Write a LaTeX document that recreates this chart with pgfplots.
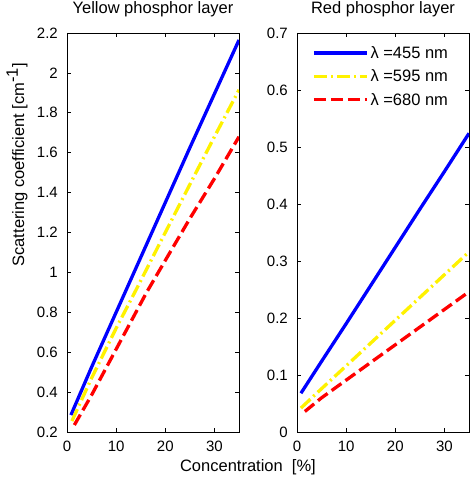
\documentclass[border=0pt]{standalone}
\usepackage{pgfplots}
\pgfplotsset{compat=1.18}
\usepackage{fontspec}
\setmainfont{Liberation Sans}

\newcommand{\tickfont}{\fontsize{15}{18}\selectfont}
\newcommand{\labfont}{\fontsize{16.5}{19}\selectfont}

\pgfplotsset{
  panel/.style={
    scale only axis,
    width=172pt, height=399pt,
    xmin=0, xmax=35,
    xtick={0,10,20,30},
    tick align=inside,
    major tick length=4pt,
    axis line style={black, line width=0.8pt},
    tick style={black, line width=0.6pt},
    ticklabel style={font=\tickfont},
    /pgf/number format/assume math mode=true,
    /pgf/number format/fixed,
    xticklabel style={inner sep=0pt, yshift=-9pt},
    yticklabel style={inner sep=0pt, xshift=-9pt},
    title style={font=\labfont, at={(0.5,1)}, anchor=base, yshift=13pt},
    clip=true,
  },
  bl/.style={blue, line width=3.3pt},
  yl/.style={yellow, line width=3.3pt, dash pattern=on 13pt off 4pt on 2pt off 4pt},
  rd/.style={red, line width=3.3pt, dash pattern=on 12pt off 5pt},
}

\begin{document}
\begin{tikzpicture}[x=1pt,y=1pt]
\useasboundingbox (0,0) rectangle (470,481);

% left panel: yellow phosphor layer
\begin{axis}[panel,
  at={(67pt,49pt)}, anchor=south west,
  ymin=0.2, ymax=2.2,
  ytick={0.2,0.4,...,2.2},
  title={Yellow phosphor layer},
  ylabel={Scattering coefficient [cm$^{\textrm{-1}}$]},
  ylabel style={font=\labfont, at={(axis description cs:-0.29,0.67)}, anchor=center},
  xlabel={Concentration\ \ [\%]},
  xlabel style={font=\labfont, at={(axis description cs:1.052,-0.0877)}, anchor=center},
]
\addplot[bl] coordinates {(0.8,0.285)(5,0.525)(10,0.80)(15,1.075)(20,1.35)(25,1.625)(30,1.895)(35,2.165)};
\addplot[yl] coordinates {(1,0.255)(5,0.47)(10,0.72)(14,0.91)(20,1.20)(25.4,1.46)(30,1.68)(35,1.915)};
\addplot[rd] coordinates {(1.5,0.235)(5,0.385)(10,0.615)(16.2,0.90)(20,1.06)(25,1.27)(30,1.47)(35,1.68)};
\end{axis}

% right panel: red phosphor layer
\begin{axis}[panel,
  at={(297pt,49pt)}, anchor=south west,
  ymin=0, ymax=0.7,
  ytick={0,0.1,...,0.7},
  title={Red phosphor layer},
  legend style={draw=none, fill=none, at={(rel axis cs:0,1)}, anchor=north west,
    xshift=15pt, yshift=-11pt, font=\labfont, row sep=6pt, inner sep=0pt,
    nodes={inner sep=2pt}},
  legend cell align=left,
  legend image code/.code={\draw[#1] (0pt,0pt) -- (53pt,0pt);},
]
\addplot[bl] coordinates {(0.8,0.068)(5,0.124)(10,0.190)(15,0.257)(20,0.324)(25,0.391)(30,0.457)(35,0.524)};
\addplot[yl] coordinates {(0.8,0.042)(5,0.076)(10,0.116)(15,0.156)(20,0.196)(25,0.236)(30,0.276)(35,0.316)};
\addplot[rd] coordinates {(1.6,0.036)(5,0.060)(10,0.091)(15,0.122)(20,0.153)(25,0.184)(30,0.215)(35,0.246)};
\legend{λ =455 nm, λ =595 nm, λ =680 nm}
\end{axis}
\end{tikzpicture}
\end{document}
